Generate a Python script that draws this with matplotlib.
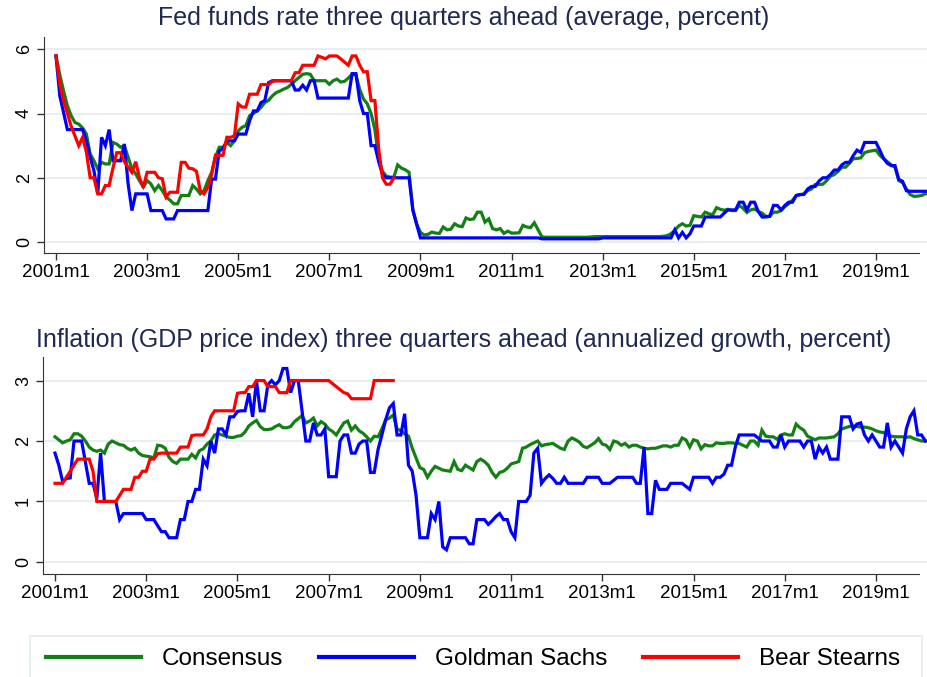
import numpy as np
import matplotlib
matplotlib.use('Agg')
import matplotlib.pyplot as plt
from matplotlib.patches import Rectangle

plt.rcParams['font.family'] = ['Liberation Sans', 'DejaVu Sans']

# monthly data, 2001m1 onwards
fed_consensus = [
    5.79, 5.2, 4.7, 4.24, 3.93, 3.72, 3.67, 3.55, 3.36, 2.74, 2.53, 2.28,
    2.48, 2.43, 2.43, 3.1, 3.05, 2.95, 3.0, 2.64, 2.28, 2.12, 1.91, 1.71,
    1.91, 1.81, 1.6, 1.76, 1.6, 1.4, 1.31, 1.19, 1.19, 1.45, 1.45, 1.45,
    1.76, 1.65, 1.5, 1.6, 1.91, 2.17, 2.64, 2.95, 2.95, 3.1, 3.0, 3.15,
    3.46, 3.57, 3.62, 3.93, 4.0, 4.08, 4.19, 4.34, 4.41, 4.55, 4.65, 4.7,
    4.76, 4.81, 4.91, 5.02, 5.12, 5.22, 5.24, 5.22, 5.02, 5.02, 5.02, 5.02,
    4.91, 5.02, 5.07, 4.98, 5.0, 5.1, 5.22, 5.2, 4.75, 4.45, 4.3, 4.0,
    3.5, 2.6, 2.2, 2.05, 2.02, 2.02, 2.4, 2.3, 2.25, 2.17, 1.0, 0.57,
    0.3, 0.22, 0.24, 0.31, 0.28, 0.27, 0.47, 0.38, 0.4, 0.57, 0.5, 0.48,
    0.75, 0.7, 0.72, 0.93, 0.93, 0.62, 0.72, 0.42, 0.38, 0.42, 0.27, 0.34,
    0.28, 0.28, 0.29, 0.52, 0.47, 0.45, 0.6, 0.38, 0.16, 0.15, 0.15, 0.15,
    0.15, 0.15, 0.15, 0.15, 0.15, 0.15, 0.15, 0.15, 0.15, 0.16, 0.17, 0.17,
    0.17, 0.17, 0.17, 0.17, 0.17, 0.17, 0.17, 0.17, 0.17, 0.17, 0.17, 0.17,
    0.17, 0.17, 0.17, 0.17, 0.18, 0.2, 0.26, 0.36, 0.5, 0.57, 0.5, 0.52,
    0.82, 0.8, 0.78, 0.93, 0.88, 0.85, 1.07, 1.02, 0.99, 1.02, 0.98, 0.98,
    1.14, 1.05, 0.92, 1.0, 1.03, 0.95, 0.9, 0.8, 0.8, 0.93, 0.93, 0.98,
    1.1, 1.19, 1.3, 1.45, 1.47, 1.5, 1.6, 1.65, 1.79, 1.79, 1.8, 1.91,
    2.05, 2.1, 2.2, 2.33, 2.33, 2.45, 2.59, 2.6, 2.62, 2.78, 2.82, 2.84,
    2.86, 2.7, 2.6, 2.5, 2.4, 2.33, 1.91, 1.85, 1.65, 1.48, 1.42, 1.43,
    1.45, 1.5,
]
fed_goldman = [
    5.79, 4.55, 4.03, 3.5, 3.5, 3.5, 3.5, 3.5, 3.15, 2.64, 2.22, 1.5,
    3.26, 3.0, 3.5, 2.53, 2.53, 2.53, 3.05, 1.81, 0.98, 1.5, 1.5, 1.5,
    1.5, 0.98, 0.98, 0.98, 0.98, 0.72, 0.72, 0.72, 0.98, 0.98, 0.98, 0.98,
    0.98, 0.98, 0.98, 0.98, 0.98, 1.96, 1.96, 2.84, 2.9, 3.15, 3.15, 3.15,
    3.36, 3.36, 3.36, 3.77, 4.08, 4.08, 4.34, 4.4, 4.96, 5.02, 5.02, 5.02,
    5.02, 5.02, 5.02, 4.73, 4.73, 4.88, 4.73, 5.02, 5.02, 4.48, 4.48, 4.48,
    4.48, 4.48, 4.48, 4.48, 4.48, 4.48, 5.24, 5.24, 4.4, 4.0, 4.0, 3.0,
    3.0, 2.5, 2.1, 2.0, 2.0, 2.0, 2.0, 2.0, 2.0, 2.0, 1.0, 0.55,
    0.13, 0.13, 0.13, 0.13, 0.13, 0.13, 0.13, 0.13, 0.13, 0.13, 0.13, 0.13,
    0.13, 0.13, 0.13, 0.13, 0.13, 0.13, 0.13, 0.13, 0.13, 0.13, 0.13, 0.13,
    0.13, 0.13, 0.13, 0.13, 0.13, 0.13, 0.13, 0.13, 0.1, 0.1, 0.1, 0.1,
    0.1, 0.1, 0.1, 0.1, 0.1, 0.1, 0.1, 0.1, 0.1, 0.1, 0.1, 0.1,
    0.13, 0.13, 0.13, 0.13, 0.13, 0.13, 0.13, 0.13, 0.13, 0.13, 0.13, 0.13,
    0.13, 0.13, 0.13, 0.13, 0.13, 0.13, 0.13, 0.38, 0.13, 0.3, 0.13, 0.26,
    0.5, 0.5, 0.5, 0.78, 0.78, 0.78, 0.78, 0.78, 0.9, 1.0, 1.0, 1.0,
    1.24, 1.24, 1.0, 1.24, 1.24, 0.95, 0.78, 0.78, 0.8, 1.14, 1.14, 1.0,
    1.14, 1.24, 1.24, 1.45, 1.48, 1.48, 1.65, 1.73, 1.73, 1.9, 2.0, 2.0,
    2.1, 2.24, 2.24, 2.4, 2.48, 2.48, 2.69, 2.86, 2.79, 3.1, 3.1, 3.1,
    3.1, 2.86, 2.6, 2.45, 2.38, 2.38, 1.95, 1.89, 1.6, 1.58, 1.58, 1.58,
    1.58, 1.58,
]
fed_bear = [
    5.79, 4.91, 4.4, 4.0, 3.6, 3.3, 3.0, 3.26, 2.8, 2.0, 2.0, 1.5,
    1.5, 1.76, 1.76, 2.3, 2.78, 2.78, 2.5, 2.33, 2.17, 2.5, 2.0, 1.7,
    2.17, 2.17, 2.17, 2.0, 1.97, 1.4, 1.55, 1.55, 1.55, 2.48, 2.48, 2.3,
    2.28, 2.2, 1.6, 1.5, 1.7, 2.1, 2.7, 2.7, 2.7, 3.26, 3.26, 3.3,
    4.3, 4.2, 4.2, 4.6, 4.6, 4.6, 4.9, 4.9, 4.9, 5.0, 5.02, 5.02,
    5.02, 5.02, 5.02, 5.27, 5.27, 5.5, 5.5, 5.5, 5.5, 5.79, 5.75, 5.7,
    5.79, 5.79, 5.79, 5.7, 5.6, 5.5, 5.79, 5.79, 5.5, 5.3, 5.3, 4.4,
    4.4, 2.9, 2.0, 1.8, 1.8, 2.0,
]

inf_consensus = [
    2.07, 2.02, 1.97, 2.0, 2.02, 2.12, 2.12, 2.08, 2.0, 1.9, 1.85, 1.83,
    1.85, 1.8, 1.95, 2.0, 1.97, 1.94, 1.93, 1.88, 1.85, 1.88, 1.8, 1.76,
    1.75, 1.74, 1.72, 1.93, 1.92, 1.88, 1.73, 1.66, 1.63, 1.7, 1.7, 1.7,
    1.78, 1.72, 1.84, 1.87, 1.95, 2.0, 2.1, 2.12, 2.1, 2.08, 2.06, 2.06,
    2.08, 2.09, 2.15, 2.25, 2.3, 2.34, 2.24, 2.19, 2.19, 2.2, 2.24, 2.27,
    2.22, 2.22, 2.24, 2.32, 2.37, 2.42, 2.3, 2.33, 2.38, 2.25, 2.32, 2.28,
    2.2, 2.16, 2.1, 2.2, 2.3, 2.33, 2.18, 2.25, 2.17, 2.13, 2.07, 2.0,
    2.08, 2.07, 2.2, 2.35, 2.38, 2.43, 2.2, 2.17, 2.12, 2.08, 1.88, 1.72,
    1.56, 1.53, 1.4, 1.5, 1.58, 1.55, 1.52, 1.51, 1.5, 1.66, 1.53, 1.51,
    1.6, 1.56, 1.52, 1.66, 1.7, 1.66, 1.6, 1.48, 1.4, 1.48, 1.5, 1.55,
    1.62, 1.64, 1.66, 1.88, 1.9, 1.94, 1.97, 2.0, 1.92, 1.94, 1.95, 1.96,
    1.92, 1.88, 1.86, 2.0, 2.05, 2.02, 1.98, 1.91, 1.89, 1.93, 1.97, 2.04,
    1.95, 1.93, 1.86, 2.0, 1.98, 1.93, 1.96, 1.9, 1.93, 1.93, 1.9, 1.88,
    1.87, 1.88, 1.88, 1.9, 1.92, 1.92, 1.9, 1.93, 1.93, 2.05, 2.02, 1.9,
    2.02, 2.0, 1.87, 1.94, 1.92, 1.92, 1.97, 1.96, 1.96, 1.97, 1.97, 1.96,
    1.96, 1.93, 1.9, 2.0, 2.0, 1.93, 2.18, 2.08, 2.07, 2.07, 2.03, 2.1,
    2.12, 2.1, 2.1, 2.28, 2.22, 2.18, 2.08, 2.05, 2.02, 2.05, 2.05, 2.05,
    2.06, 2.07, 2.12, 2.2, 2.22, 2.24, 2.25, 2.24, 2.23, 2.23, 2.22, 2.2,
    2.17, 2.15, 2.14, 2.1, 2.08, 2.07, 2.07, 2.07, 2.06, 2.07, 2.04, 2.02,
    2.0, 2.0,
]
inf_goldman = [
    1.8, 1.6, 1.33, 1.38, 1.39, 2.0, 2.0, 2.0, 1.65, 1.3, 1.3, 1.05,
    1.8, 1.0, 1.0, 1.0, 1.0, 0.7, 0.8, 0.8, 0.8, 0.8, 0.8, 0.8,
    0.7, 0.7, 0.7, 0.6, 0.5, 0.5, 0.4, 0.4, 0.4, 0.7, 0.7, 1.0,
    1.0, 1.2, 1.2, 1.7, 1.59, 2.0, 1.8, 2.2, 2.2, 2.1, 2.4, 2.4,
    2.49, 2.5, 2.5, 2.79, 2.4, 3.0, 2.5, 2.5, 2.93, 3.0, 2.93, 3.0,
    3.2, 3.2, 2.8, 3.0, 3.0, 2.5, 2.0, 2.0, 2.3, 2.1, 2.1, 2.2,
    1.41, 1.41, 1.41, 2.0, 2.1, 2.1, 1.8, 1.8, 1.95, 2.0, 2.0, 1.48,
    1.48, 1.86, 2.1, 2.35, 2.55, 2.62, 2.1, 2.1, 2.45, 1.6, 1.5, 1.1,
    0.4, 0.4, 0.4, 0.8, 0.7, 1.0, 0.25, 0.2, 0.4, 0.4, 0.4, 0.4,
    0.4, 0.3, 0.3, 0.7, 0.7, 0.7, 0.62, 0.68, 0.75, 0.8, 0.7, 0.7,
    0.5, 0.4, 1.0, 1.0, 1.0, 1.1, 1.8, 1.88, 1.3, 1.38, 1.44, 1.38,
    1.3, 1.3, 1.4, 1.3, 1.3, 1.3, 1.3, 1.3, 1.4, 1.4, 1.4, 1.4,
    1.3, 1.3, 1.3, 1.35, 1.4, 1.4, 1.4, 1.4, 1.4, 1.3, 1.3, 1.9,
    0.8, 0.8, 1.35, 1.2, 1.2, 1.2, 1.3, 1.3, 1.3, 1.3, 1.25, 1.2,
    1.4, 1.4, 1.4, 1.4, 1.4, 1.3, 1.4, 1.4, 1.45, 1.6, 1.6, 1.9,
    2.1, 2.1, 2.1, 2.1, 2.1, 2.05, 2.0, 2.0, 2.0, 1.9, 1.9, 2.1,
    1.9, 2.0, 2.0, 2.0, 2.0, 1.9, 2.0, 2.0, 1.7, 1.9, 1.8, 1.9,
    1.7, 1.7, 1.7, 2.4, 2.4, 2.4, 2.2, 2.28, 2.3, 2.1, 2.0, 2.1,
    2.0, 1.9, 1.9, 2.3, 1.9, 2.0, 1.9, 1.8, 2.2, 2.4, 2.5, 2.1,
    2.1, 2.0,
]
inf_bear = [
    1.3, 1.3, 1.3, 1.4, 1.5, 1.6, 1.7, 1.7, 1.7, 1.7, 1.5, 1.0,
    1.0, 1.0, 1.0, 1.0, 1.0, 1.1, 1.2, 1.2, 1.2, 1.4, 1.4, 1.5,
    1.5, 1.7, 1.7, 1.79, 1.8, 1.8, 1.8, 1.8, 1.8, 1.9, 1.9, 1.9,
    2.09, 2.1, 2.1, 2.1, 2.2, 2.4, 2.5, 2.5, 2.5, 2.5, 2.5, 2.5,
    2.79, 2.8, 2.8, 2.9, 2.9, 3.0, 3.0, 3.0, 2.9, 2.9, 2.9, 2.8,
    2.8, 2.8, 3.0, 3.0, 3.0, 3.0, 3.0, 3.0, 3.0, 3.0, 3.0, 3.0,
    3.0, 2.95, 2.9, 2.85, 2.8, 2.78, 2.7, 2.7, 2.7, 2.7, 2.7, 2.7,
    3.0, 3.0, 3.0, 3.0, 3.0, 3.0,
]

tick_pos = list(range(0, 217, 24))
tick_labels = [f"{2001 + 2 * i}m1" for i in range(len(tick_pos))]

GREEN = '#138013'
BLUE = '#0000ff'
RED = '#ff0000'
GRID = '#e6eef0'
TITLE = '#1e2a50'
W, H = 928, 677


def panel(rect, series, ylim, yticks, title, title_y):
    ax = fig.add_axes(rect)
    for vals, col in series:
        ax.plot(np.arange(len(vals)), vals, color=col, lw=2.3,
                solid_joinstyle='miter')
    ax.set_xlim(-3.16, 229.7)
    ax.set_ylim(*ylim)
    ax.set_yticks(yticks)
    ax.set_yticklabels([str(t) for t in yticks], rotation=90, va='center',
                       fontsize=13)
    ax.set_xticks(tick_pos)
    ax.set_xticklabels(tick_labels, fontsize=13.5)
    ax.yaxis.grid(True, color=GRID, lw=1.3)
    ax.set_axisbelow(True)
    for s in ['top', 'right']:
        ax.spines[s].set_visible(False)
    ax.spines['left'].set_color('#333333')
    ax.spines['bottom'].set_color('#333333')
    ax.spines['bottom'].set_bounds(-3.16, 227.3)
    ax.tick_params(axis='both', direction='out', length=5, width=1,
                   color='#333333', pad=3)
    fig.text(0.5, title_y, title, ha='center', va='center', fontsize=18,
             color=TITLE)
    return ax


fig = plt.figure(figsize=(W / 100, H / 100), dpi=100)

panel([44 / W, (H - 253) / H, (W - 44) / W, 216 / H],
      [(fed_consensus, GREEN), (fed_goldman, BLUE), (fed_bear, RED)],
      (-0.34, 6.38), [0, 2, 4, 6],
      "Fed funds rate three quarters ahead (average, percent)",
      (H - 18) / H)

panel([43 / W, (H - 574) / H, (W - 43) / W, 217 / H],
      [(inf_consensus, GREEN), (inf_goldman, BLUE), (inf_bear, RED)],
      (-0.2, 3.39), [0, 1, 2, 3],
      "Inflation (GDP price index) three quarters ahead (annualized growth, percent)",
      (H - 340) / H)

# legend with a light frame that runs off the bottom edge
fig.patches.append(Rectangle((30 / W, -0.02), 892 / W, (H - 636) / H + 0.02,
                             transform=fig.transFigure, facecolor='white',
                             edgecolor=GRID, lw=1.3))
handles = [plt.Line2D([], [], color=c, lw=3) for c in (GREEN, BLUE, RED)]
fig.legend(handles, ['Consensus', 'Goldman Sachs', 'Bear Stearns'],
           loc='center', bbox_to_anchor=(473 / W, (H - 659) / H), ncol=3,
           frameon=False, fontsize=17.5, handlelength=3.9,
           handletextpad=0.85, columnspacing=1.5)

fig.savefig('out.png', dpi=100)
